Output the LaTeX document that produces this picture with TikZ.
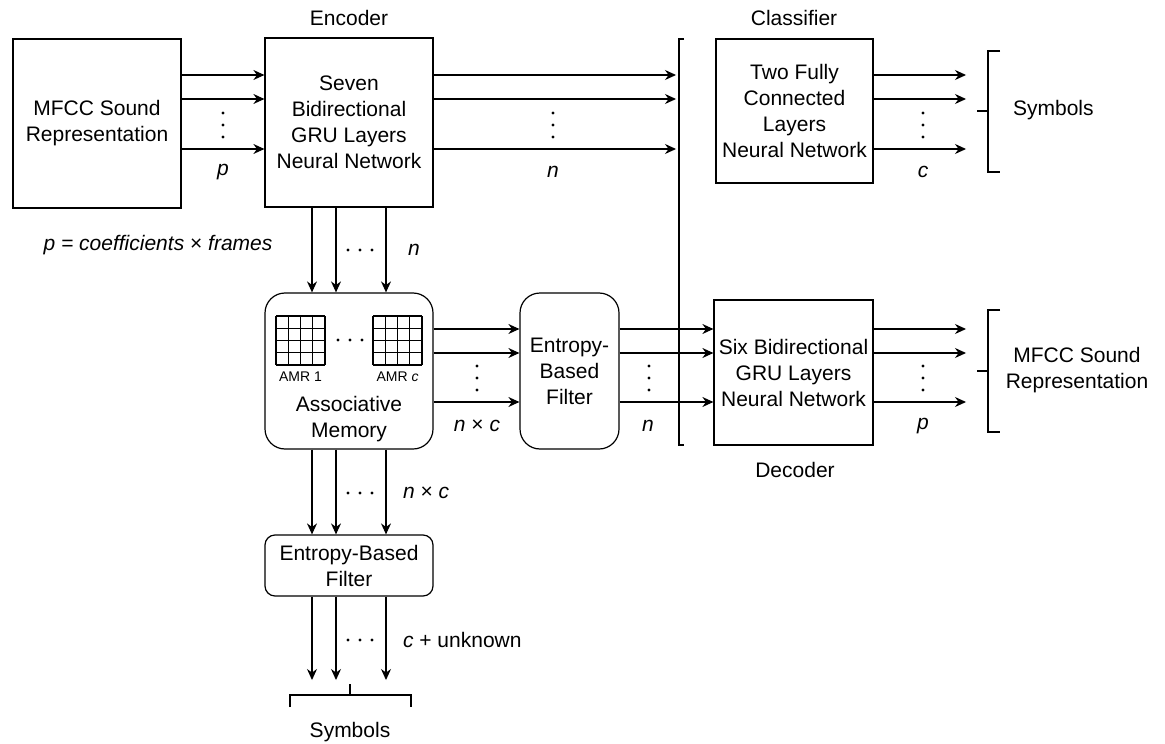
\documentclass[tikz,border=0pt]{standalone}
\usepackage{fontspec}
\setmainfont{Liberation Sans}
\usetikzlibrary{calc,arrows.meta}

\tikzset{
  box/.style = {draw, line width=0.6pt, align=center, inner sep=0pt},
  rbox/.style = {box, rounded corners=10pt},
  arr/.style = {-{Stealth[length=5.5pt,width=5pt]}, line width=0.6pt},
  brk/.style = {line width=1.1pt},
  lbl/.style = {font=\fontsize{10.5}{13}\selectfont\itshape},
  small/.style = {font=\fontsize{7}{8}\selectfont}
}

% three dots, vertical and horizontal
\newcommand{\vdts}[2]{\foreach \k in {-1,0,1} \fill (#1,#2+\k*12) circle (1.7);}
\newcommand{\hdts}[2]{\foreach \k in {-1,0,1} \fill (#1+\k*12,#2) circle (1.7);}

\begin{document}
\begin{tikzpicture}[x=0.5pt, y=-0.5pt, every node/.style={font=\fontsize{10.5}{13}\selectfont, align=center}]
\useasboundingbox (0,0) rectangle (1165,743);

%Boxes
\node[box, minimum width=84pt, minimum height=84.5pt] (mfcc) at (97,123.5) {MFCC Sound\\Representation};
\node[box, minimum width=84pt, minimum height=84.5pt] (enc) at (349,122.5) {Seven\\Bidirectional\\GRU Layers\\Neural Network};
\node[box, minimum width=78.5pt, minimum height=72pt] (cls) at (794.5,111) {Two Fully\\Connected\\Layers\\Neural Network};
\node[rbox, minimum width=84pt, minimum height=78pt] (am) at (349,371) {};
\node[rbox, minimum width=49.5pt, minimum height=78pt] (ebfa) at (569.5,371) {Entropy-\\Based\\Filter};
\node[box, minimum width=79.5pt, minimum height=72.5pt] (dec) at (793.5,372.5) {Six Bidirectional\\GRU Layers\\Neural Network};
\node[rbox, rounded corners=5pt, minimum width=84pt, minimum height=30.5pt] (ebfb) at (349,565.5) {Entropy-Based\\Filter};

%Titles
\node (enct) at (349,18) {Encoder};
\node (clst) at (794,18) {Classifier};
\node (dect) at (795,470) {Decoder};
\node (amt) at (349,419) {Associative\\Memory};

%Memory registers
\foreach \gx/\gname in {276/AMR 1, 373/AMR \textit{c}} {
  \foreach \i in {0,...,4} {
    \draw[line width=0.6pt] (\gx+\i*12.25,316) -- (\gx+\i*12.25,365);
    \draw[line width=0.6pt] (\gx,316+\i*12.25) -- (\gx+49,316+\i*12.25);
  }
  \node[small] at (\gx+24.5,377) {\gname};
}
\hdts{350}{340}

%Bracket before classifier and decoder
\coordinate (brk) at (679,39);
\coordinate (brkb) at (679,445);
\draw[line width=0.6pt] ($(brk)+(5,0)$) -- (brk) -- (brkb) -- ($(brkb)+(5,0)$);
\draw[brk] (679,183) -- (679,198);

%Encoder in and out
\foreach \y in {75,99,149} {
  \draw[arr] (mfcc.east |- 0,\y) -- (enc.west |- 0,\y);
  \draw[arr] (enc.east |- 0,\y) -- ([xshift=-1.5pt]brk |- 0,\y);
  \draw[arr] (cls.east |- 0,\y) -- (966,\y);
}
\vdts{223}{125} \vdts{553}{125} \vdts{923}{125}
\node[lbl] (pa) at (223,172) {p};
\node[lbl] (na) at (553,172) {n};
\node[lbl] (ca) at (923,172) {c};

%Symbols bracket
\draw[brk] (1000,51) -- (988,51) -- (988,172) -- (1000,172);
\draw[brk] (977,111) -- (988,111);
\node[anchor=west] (syma) at (1006,110) {Symbols};

%Encoder to memory
\node[lbl] (pdef) at (158,245) {p = coefficients {\upshape ×} frames};
\foreach \x in {312,336,386}
  \draw[arr] (enc.south -| \x,0) -- (am.north -| \x,0);
\hdts{360}{250}
\node[lbl, anchor=west] (nb) at (401,250) {n};

%Memory to filter to decoder
\foreach \y in {329,353,402} {
  \draw[arr] (am.east |- 0,\y) -- (ebfa.west |- 0,\y);
  \draw[arr] (ebfa.east |- 0,\y) -- (dec.west |- 0,\y);
  \draw[arr] (dec.east |- 0,\y) -- (966,\y);
}
\vdts{477}{378} \vdts{649}{378} \vdts{923}{378}
\node[lbl] (nc) at (477,426) {n {\upshape ×} c};
\node[lbl] (nd) at (648,426) {n};
\node[lbl] (pb) at (923,426) {p};

%MFCC bracket
\draw[brk] (1000,310) -- (988,310) -- (988,432) -- (1000,432);
\draw[brk] (977,371) -- (988,371);
\node (mfccb) at (1077,370) {MFCC Sound\\Representation};

%Memory to lower filter
\foreach \x in {312,336,386} {
  \draw[arr] (am.south -| \x,0) -- (ebfb.north -| \x,0);
  \draw[arr] (ebfb.south -| \x,0) -- (\x,680);
}
\hdts{360}{493} \hdts{360}{640}
\node[lbl, anchor=west] (ne) at (396,493) {n {\upshape ×} c};
\node[lbl, anchor=west] (cu) at (396,640) {c {\upshape + unknown}};

%Symbols bracket at bottom
\draw[brk] (290,707) -- (290,695) -- (411,695) -- (411,707);
\draw[brk] (350,684) -- (350,695);
\node (symb) at (350,732) {Symbols};

\end{tikzpicture}
\end{document}
